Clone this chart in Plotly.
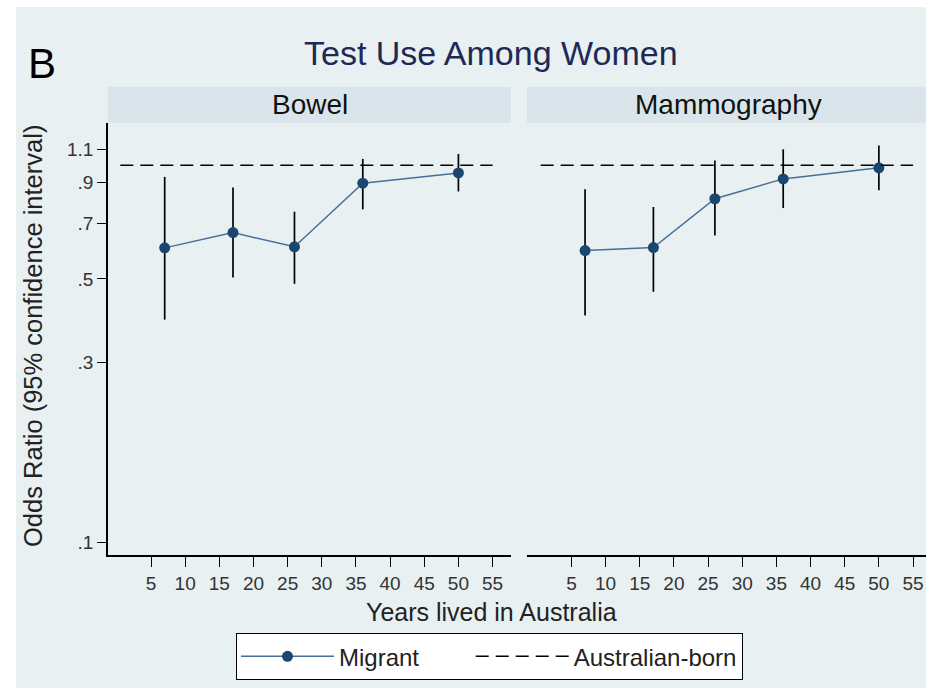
import plotly.graph_objects as go

# ---- data ----
years = [7, 17, 26, 36, 50]
bowel_or = [0.604, 0.663, 0.608, 0.896, 0.954]
bowel_lo = [0.390, 0.504, 0.485, 0.764, 0.852]
bowel_hi = [0.931, 0.873, 0.753, 1.039, 1.071]
mammo_or = [0.594, 0.605, 0.815, 0.920, 0.984]
mammo_lo = [0.400, 0.462, 0.651, 0.770, 0.859]
mammo_hi = [0.864, 0.775, 1.029, 1.102, 1.127]
ref_years = [0.5, 55]
ref_or = [1.0, 1.0]
panels = ["Bowel", "Mammography"]
x_ticks = [5, 10, 15, 20, 25, 30, 35, 40, 45, 50, 55]
y_ticks = [0.1, 0.3, 0.5, 0.7, 0.9, 1.1]
y_ticklabels = [".1", ".3", ".5", ".7", ".9", "1.1"]

# ---- geometry helpers (page pixels -> paper); body margin removed ----
OFF = 0
W, H = 926, 688
ML, MR, MT, MB = 108, 0, 123, 133
PW, PH = W - ML - MR, H - MT - MB
def xp(px): return (px - OFF - ML) / PW
def yp(py): return (H - MB - (py - OFF)) / PH

FONT = "Liberation Sans, Arial, sans-serif"
NAVY = "#1a476f"
LINE = "#46709a"
BG = "#e8f0f2"
STRIP = "#d9e5eb"
GRID = "#e9f1f2"
NBSP = "\u00a0"

fig = go.Figure()

series = [(bowel_or, bowel_lo, bowel_hi, "x", "y"), (mammo_or, mammo_lo, mammo_hi, "x2", "y2")]
for i, (o, lo, hi, xa, ya) in enumerate(series):
    fig.add_trace(go.Scatter(
        x=years, y=o, xaxis=xa, yaxis=ya, mode="lines+markers",
        name="Migrant" + NBSP * 7, legendgroup="m", showlegend=(i == 0),
        line=dict(color=LINE, width=1.5),
        marker=dict(color=NAVY, size=11),
        error_y=dict(type="data", symmetric=False,
                     array=[h - v for h, v in zip(hi, o)],
                     arrayminus=[v - l for v, l in zip(o, lo)],
                     width=0, thickness=1.7, color="black"),
    ))
for i, (xa, ya) in enumerate([("x", "y"), ("x2", "y2")]):
    fig.add_trace(go.Scatter(
        x=ref_years, y=ref_or, xaxis=xa, yaxis=ya, mode="lines",
        name="Australian-born", legendgroup="a", showlegend=(i == 0),
        line=dict(color="black", width=1.6, dash="13px,7px"),
    ))

axis_common = dict(ticks="outside", tickcolor="black", showline=True,
                   linecolor="black", zeroline=False,
                   tickfont=dict(family=FONT, size=19, color="#333333"))

fig.update_layout(
    width=W, height=H,
    margin=dict(l=ML, r=MR, t=MT, b=MB, pad=0),
    paper_bgcolor="white", plot_bgcolor="white",
    font=dict(family=FONT, color="black"),
    xaxis=dict(domain=[0, xp(511)], range=[-1.3, 57.7], tickvals=x_ticks,
               ticklen=10, linewidth=2, showgrid=False, **axis_common),
    xaxis2=dict(domain=[xp(527), 1], range=[-1.5, 56.9], tickvals=x_ticks,
                ticklen=10, linewidth=2, showgrid=False, **axis_common),
    yaxis=dict(type="log", range=[-1.0325, 0.1118], tickvals=y_ticks,
               ticktext=y_ticklabels, ticklen=9, linewidth=1.5,
               showgrid=True, gridcolor=GRID, gridwidth=1, **axis_common),
    yaxis2=dict(type="log", range=[-1.0325, 0.1118], anchor="x2",
                tickvals=y_ticks, showticklabels=False, ticks="",
                showline=False, zeroline=False,
                showgrid=True, gridcolor=GRID, gridwidth=1),
    showlegend=True,
    legend=dict(orientation="h", x=xp(236), xanchor="left",
                y=yp(633), yanchor="top", bgcolor="white",
                bordercolor="black", borderwidth=1.2,
                font=dict(family=FONT, size=24, color="#222222"),
                itemwidth=93),
)

shapes = [
    dict(type="rect", xref="paper", yref="paper", x0=xp(16), x1=xp(926),
         y0=yp(688), y1=yp(7), fillcolor=BG, line=dict(width=0), layer="below"),
    dict(type="rect", xref="paper", yref="paper", x0=xp(108), x1=xp(511),
         y0=yp(122.7), y1=yp(86.7), fillcolor=STRIP, line=dict(width=0), layer="below"),
    dict(type="rect", xref="paper", yref="paper", x0=xp(527), x1=xp(926),
         y0=yp(122.7), y1=yp(86.7), fillcolor=STRIP, line=dict(width=0), layer="below"),
]
fig.update_layout(shapes=shapes)

annotations = [
    dict(text="Test Use Among Women", x=xp(491), y=yp(53), font=dict(size=34, color="#1e2a55")),
    dict(text="B", x=xp(41.5), y=yp(64), font=dict(size=42, color="black")),
    dict(text=panels[0], x=xp(309.5), y=yp(104), font=dict(size=28, color="#111111")),
    dict(text=panels[1], x=xp(728), y=yp(104), font=dict(size=28, color="#111111")),
    dict(text="Years lived in Australia", x=xp(491), y=yp(612), font=dict(size=25, color="#222222")),
    dict(text="Odds Ratio (95% confidence interval)", x=xp(33), y=yp(336), textangle=-90,
         font=dict(size=25.5, color="#222222")),
]
for a in annotations:
    a.update(xref="paper", yref="paper", showarrow=False, xanchor="center", yanchor="middle")
    a["font"]["family"] = FONT
fig.update_layout(annotations=annotations)

fig.write_html("out.html", config={"displayModeBar": False},
               post_script="document.body.style.margin='0';document.body.style.overflow='hidden';")
